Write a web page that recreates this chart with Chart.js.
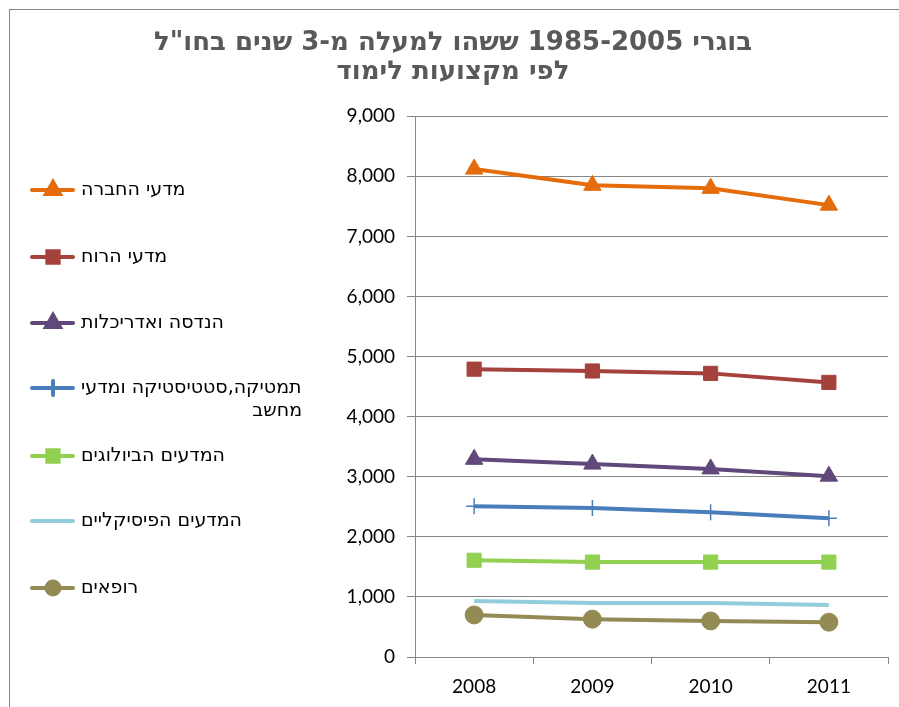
<!DOCTYPE html>
<html>
<head>
<meta charset="utf-8">
<script src="https://cdn.jsdelivr.net/npm/chart.js@4"></script>
<style>
  body { margin: 0; background: #fff; }
  #wrap { width: 899px; height: 707px; }
</style>
</head>
<body>
<div id="wrap"><canvas id="chart" dir="rtl" width="899" height="707"></canvas></div>
<script>
// data
var years = ["2008", "2009", "2010", "2011"];
var socialSci = [8120, 7850, 7800, 7520];
var humanities = [4790, 4760, 4720, 4570];
var engineering = [3290, 3210, 3130, 3010];
var mathCs = [2510, 2480, 2410, 2310];
var bioSci = [1610, 1580, 1580, 1580];
var physSci = [930, 900, 900, 865];
var doctors = [700, 630, 600, 580];

var seriesNames = ["מדעי החברה", "מדעי הרוח", "הנדסה ואדריכלות", "מתמטיקה,סטטיסטיקה ומדעי המחשב", "המדעים הביולוגים", "המדעים הפיסיקליים", "רופאים"];
var seriesColors = ["#E46C0A", "#A5423C", "#60497A", "#4A7EBB", "#92D050", "#93CDDD", "#948A54"];
var seriesMarkers = ["triangle", "rect", "triangle", "cross", "rect", false, "circle"];
var seriesValues = [socialSci, humanities, engineering, mathCs, bioSci, physSci, doctors];
var markerSizes = [10, 10, 10, 8, 10, 0, 9];
var legendMarkerSizes = [8, 8, 8, 7, 8, 0, 6.5];

var titleLines = ['בוגרי 1985-2005 ששהו למעלה מ-3 שנים בחו"ל', "לפי מקצועות לימוד"];

// legend rows: y position and text lines
var legendRows = [
  { y: 190, lines: ["מדעי החברה"] },
  { y: 257, lines: ["מדעי הרוח"] },
  { y: 323, lines: ["הנדסה ואדריכלות"] },
  { y: 388, lines: ["מתמטיקה,סטטיסטיקה ומדעי", "המחשב"] },
  { y: 456, lines: ["המדעים הביולוגים"] },
  { y: 521, lines: ["המדעים הפיסיקליים"] },
  { y: 588, lines: ["רופאים"] }
];

var gridGray = "#868686";

var datasets = seriesNames.map(function(name, i){
  return {
    label: name,
    data: seriesValues[i],
    borderColor: seriesColors[i],
    backgroundColor: seriesColors[i],
    borderWidth: 4,
    pointStyle: seriesMarkers[i],
    pointRadius: markerSizes[i],
    pointBorderWidth: seriesMarkers[i] === "cross" ? 1.5 : 1,
    pointBorderColor: seriesColors[i],
    tension: 0
  };
});

// frame + hand-drawn RTL legend
var frameAndLegend = {
  id: "frameAndLegend",
  afterDraw: function(chart){
    var ctx = chart.ctx;
    ctx.save();
    ctx.strokeStyle = gridGray;
    ctx.lineWidth = 1;
    ctx.strokeRect(9.5, 9.5, 1000, 1000);

    legendRows.forEach(function(row, i){
      ctx.strokeStyle = seriesColors[i];
      ctx.lineWidth = 4;
      ctx.lineCap = "round";
      ctx.beginPath();
      ctx.moveTo(32, row.y);
      ctx.lineTo(73, row.y);
      ctx.stroke();
      if (seriesMarkers[i]) {
        ctx.fillStyle = seriesColors[i];
        Chart.helpers.drawPoint(ctx, {
          pointStyle: seriesMarkers[i],
          radius: legendMarkerSizes[i],
          rotation: 0,
          borderWidth: seriesMarkers[i] === "cross" ? 1.5 : 1
        }, 53, row.y);
      }
    });

    // text is clipped at the legend box edge, as in the original
    ctx.beginPath();
    ctx.rect(78, 0, 223, 707);
    ctx.clip();
    ctx.font = "19px 'DejaVu Sans'";
    ctx.fillStyle = "#000";
    ctx.textBaseline = "middle";
    ctx.direction = "rtl";
    legendRows.forEach(function(row){
      var firstW = ctx.measureText(row.lines[0]).width;
      ctx.textAlign = "left";
      ctx.fillText(row.lines[0], 81, row.y);
      if (row.lines[1]) {
        ctx.textAlign = "right";
        ctx.fillText(row.lines[1], 81 + firstW, row.y + 23);
      }
    });
    ctx.restore();
  }
};

new Chart(document.getElementById("chart"), {
  type: "line",
  data: { labels: years, datasets: datasets },
  plugins: [frameAndLegend],
  options: {
    responsive: false,
    animation: false,
    layout: { padding: { left: 17, right: 10, top: 0, bottom: 0 } },
    plugins: {
      legend: { display: false },
      tooltip: { enabled: false },
      title: {
        display: true,
        text: titleLines,
        color: "#595959",
        font: { family: "'DejaVu Sans'", size: 26, weight: "bold", lineHeight: 1.1 },
        padding: { top: 29, bottom: 30 }
      }
    },
    scales: {
      x: {
        offset: true,
        grid: { display: true, offset: true, drawOnChartArea: false, drawTicks: true, tickLength: 7, color: gridGray },
        border: { color: gridGray },
        ticks: { color: "#000", padding: 11, font: { family: "Lato", size: 19 } },
        afterFit: function(scale){ scale.height = 50; }
      },
      y: {
        min: 0,
        max: 9000,
        ticks: {
          stepSize: 1000,
          color: "#000",
          padding: 12,
          font: { family: "Lato", size: 19 },
          callback: function(v){ return v.toLocaleString("en-US"); }
        },
        grid: { color: gridGray, tickLength: 8 },
        border: { color: gridGray },
        afterFit: function(scale){ scale.width = 398; }
      }
    }
  }
});
</script>
</body>
</html>
